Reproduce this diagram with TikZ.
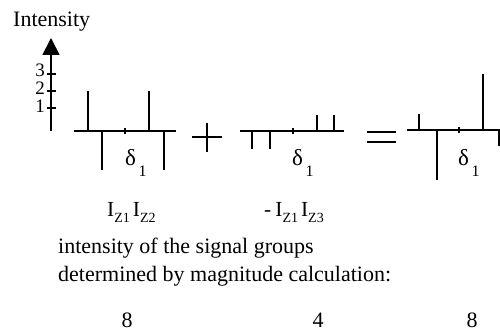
\documentclass[tikz,border=0pt]{standalone}
\usepackage{fontspec}
\setmainfont{Liberation Serif}
\usetikzlibrary{arrows.meta}
\newcommand{\zsub}[1]{\raisebox{-6.5pt}{\fontsize{14}{14}\selectfont #1}}
\newcommand{\dsub}{δ\kern2.5pt\raisebox{-11pt}{\fontsize{16}{16}\selectfont 1}}
\begin{document}
\begin{tikzpicture}[x=1pt,y=-1pt,
  spec/.style={line width=1.7pt},
  tickln/.style={line width=1.3pt},
  txt/.style={inner sep=0pt, font=\fontsize{22}{26}\selectfont},
  lab/.style={inner sep=0pt, font=\fontsize{21.5}{24}\selectfont},
  axnum/.style={inner sep=0pt, anchor=base east, font=\fontsize{19}{20}\selectfont},
  dl/.style={inner sep=0pt, anchor=base west, font=\fontsize{23}{26}\selectfont}
]
\useasboundingbox (0,0) rectangle (500,331);
\fill[white] (0,0) rectangle (500,331);

% axis
\node[txt, anchor=base west] (ylab) at (13,27) {Intensity};
\coordinate (axbot) at (51,131);
\coordinate (axtop) at (51,38);
\draw[spec, -{Triangle[length=17pt,width=17pt]}] (axbot) -- (axtop);
\foreach \yy in {74,91,108} \draw[tickln] (47,\yy) -- (56,\yy);
\node[axnum] (n3) at (45,77) {3};
\node[axnum] (n2) at (45,94.5) {2};
\node[axnum] (n1) at (45,112.5) {1};

% spectrum 1
\draw[spec] (74,131) -- (176,131);
\draw[spec] (88,131) -- (88,91);
\draw[spec] (149,131) -- (149,91);
\draw[spec] (102,131) -- (102,170);
\draw[spec] (164,131) -- (164,170);
\draw[tickln] (125,128) -- (125,134);
\node[dl] (d1) at (125,166) {\dsub};

% plus
\draw[spec] (192,137) -- (222,137);
\draw[spec] (207,123) -- (207,152);

% spectrum 2
\draw[spec] (240,131) -- (344,131);
\draw[spec] (252,131) -- (252,149);
\draw[spec] (270,131) -- (270,149);
\draw[spec] (317,131) -- (317,115);
\draw[spec] (334,131) -- (334,115);
\draw[tickln] (293,128) -- (293,134);
\node[dl] (d2) at (292,166) {\dsub};

% equals
\draw[spec] (367,132) -- (396,132);
\draw[spec] (367,142) -- (396,142);

% spectrum 3
\draw[spec] (407,130) -- (501,130);
\draw[spec] (419,130) -- (419,114);
\draw[spec] (437,130) -- (437,180);
\draw[spec] (483,130) -- (483,74);
\draw[spec] (499,130) -- (499,146);
\draw[tickln] (459,127) -- (459,133);
\node[dl] (d3) at (458,165) {\dsub};

% product labels
\node[lab, anchor=base west] (p1) at (107,216) {I\zsub{Z1}\kern3pt I\zsub{Z2}};
\node[lab, anchor=base west] (p2) at (264,216) {-\kern4pt I\zsub{Z1}\kern3pt I\zsub{Z3}};

% text
\node[txt, anchor=base west] (t1) at (58,253) {intensity of the signal groups};
\node[txt, anchor=base west] (t2) at (58,281) {determined by magnitude calculation:};
\node[txt, anchor=base] (v1) at (127,327) {8};
\node[txt, anchor=base] (v2) at (318,327) {4};
\node[txt, anchor=base] (v3) at (472,327) {8};
\end{tikzpicture}
\end{document}
